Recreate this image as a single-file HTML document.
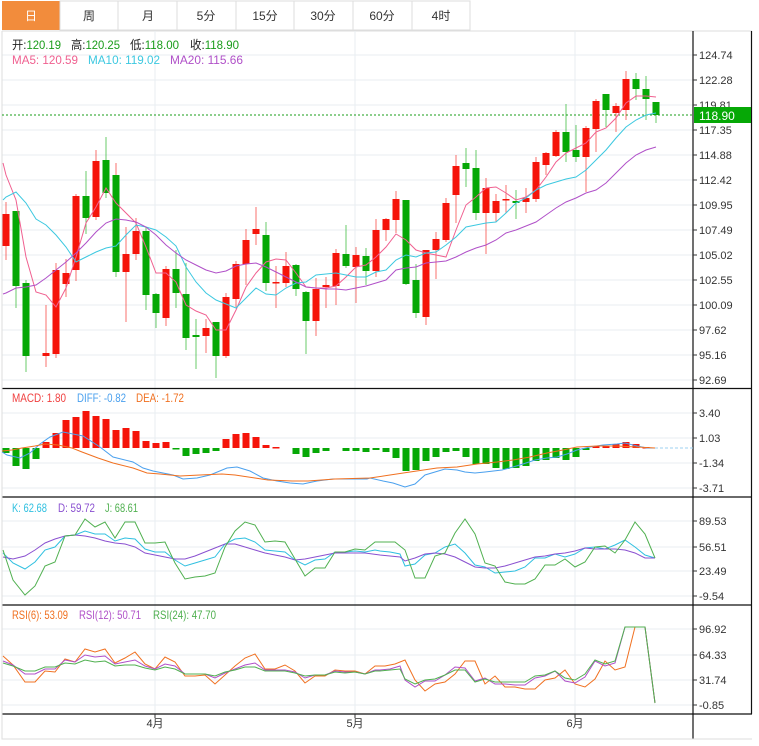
<!DOCTYPE html>
<html><head><meta charset="utf-8"><style>
html,body{margin:0;padding:0;background:#fff;width:759px;height:746px;overflow:hidden}
svg{display:block}
text{font-family:"Liberation Sans","Noto Sans CJK SC",sans-serif}
</style></head><body>
<svg width="759" height="746" viewBox="0 0 759 746" xmlns="http://www.w3.org/2000/svg">
<!-- tabs -->
<g font-size="12" fill="#333" text-anchor="middle">
<rect x="2" y="1" width="58" height="29" fill="#f28c3c"/>
<rect x="60" y="1" width="58" height="29" fill="#fff" stroke="#ddd"/>
<rect x="118" y="1" width="59" height="29" fill="#fff" stroke="#ddd"/>
<rect x="177" y="1" width="59" height="29" fill="#fff" stroke="#ddd"/>
<rect x="236" y="1" width="58" height="29" fill="#fff" stroke="#ddd"/>
<rect x="294" y="1" width="59" height="29" fill="#fff" stroke="#ddd"/>
<rect x="353" y="1" width="59" height="29" fill="#fff" stroke="#ddd"/>
<rect x="412" y="1" width="58" height="29" fill="#fff" stroke="#ddd"/>
<text x="31" y="20" fill="#fff">日</text><text x="89" y="20">周</text><text x="148" y="20">月</text><text x="206" y="20">5分</text><text x="265" y="20">15分</text><text x="323" y="20">30分</text><text x="382" y="20">60分</text><text x="441" y="20">4时</text>
</g>
<line x1="2" y1="31" x2="752" y2="31" stroke="#ddd"/>
<!-- grid -->
<g stroke="#e8eef2" stroke-width="1">
<path d="M2 55H693M2 80H693M2 105H693M2 130H693M2 155H693M2 180H693M2 205H693M2 230H693M2 255H693M2 280H693M2 305H693M2 330H693M2 355H693M2 380H693"/>
<path d="M2 413H693M2 438H693M2 463H693M2 488H693"/>
<path d="M2 521H693M2 547H693M2 571H693M2 596H693"/>
<path d="M2 629H693M2 655H693M2 680H693M2 705H693"/>
<path d="M155 31V714M355 31V714M575 31V714"/>
</g>
<!-- frame -->
<g stroke="#111" stroke-width="1.2" fill="none">
<path d="M2 388.5H752M2 497H752M2 605H752M2 714H752"/>
<path d="M693 31V739M751.5 31V714"/>
</g>
<path d="M2 31V739H752" stroke="#ddd" fill="none"/>
<!-- axis ticks and labels -->
<g stroke="#333"><path d="M693 55h4M693 80h4M693 105h4M693 130h4M693 155h4M693 180h4M693 205h4M693 230h4M693 255h4M693 280h4M693 305h4M693 330h4M693 355h4M693 380h4M693 413h4M693 438h4M693 463h4M693 488h4M693 521h4M693 547h4M693 571h4M693 596h4M693 629h4M693 655h4M693 680h4M693 705h4M155 714v4M355 714v4M575 714v4"/></g>
<g font-size="11" fill="#333">
<text x="699" y="59">124.74</text><text x="699" y="84">122.28</text><text x="699" y="109">119.81</text><text x="699" y="134">117.35</text><text x="699" y="159">114.88</text><text x="699" y="184">112.42</text><text x="699" y="209">109.95</text><text x="699" y="234">107.49</text><text x="699" y="259">105.02</text><text x="699" y="284">102.55</text><text x="699" y="309">100.09</text><text x="699" y="334">97.62</text><text x="699" y="359">95.16</text><text x="699" y="384">92.69</text>
<text x="699" y="417">3.40</text><text x="699" y="442">1.03</text><text x="699" y="467">-1.34</text><text x="699" y="492">-3.71</text>
<text x="699" y="525">89.53</text><text x="699" y="551">56.51</text><text x="699" y="575">23.49</text><text x="699" y="600">-9.54</text>
<text x="699" y="633">96.92</text><text x="699" y="659">64.33</text><text x="699" y="684">31.74</text><text x="699" y="709">-0.85</text>
<text x="155" y="727" text-anchor="middle">4月</text><text x="355" y="727" text-anchor="middle">5月</text><text x="575" y="727" text-anchor="middle">6月</text>
</g>
<!-- headers -->
<g font-size="12" lengthAdjust="spacingAndGlyphs">
<text x="12" y="49" fill="#222" textLength="49" lengthAdjust="spacingAndGlyphs">开:<tspan fill="#1a9c1a">120.19</tspan></text>
<text x="71" y="49" fill="#222" textLength="49" lengthAdjust="spacingAndGlyphs">高:<tspan fill="#1a9c1a">120.25</tspan></text>
<text x="130" y="49" fill="#222" textLength="49" lengthAdjust="spacingAndGlyphs">低:<tspan fill="#1a9c1a">118.00</tspan></text>
<text x="190" y="49" fill="#222" textLength="49" lengthAdjust="spacingAndGlyphs">收:<tspan fill="#1a9c1a">118.90</tspan></text>
<text x="12" y="64" fill="#f06090" textLength="66" lengthAdjust="spacingAndGlyphs">MA5: 120.59</text>
<text x="88" y="64" fill="#3cc8e0" textLength="72" lengthAdjust="spacingAndGlyphs">MA10: 119.02</text>
<text x="170" y="64" fill="#b050c8" textLength="73" lengthAdjust="spacingAndGlyphs">MA20: 115.66</text>
<text x="12" y="402" fill="#f04040" textLength="54" lengthAdjust="spacingAndGlyphs">MACD: 1.80</text>
<text x="77" y="402" fill="#4aa0ee" textLength="49" lengthAdjust="spacingAndGlyphs">DIFF: -0.82</text>
<text x="136" y="402" fill="#f07020" textLength="48" lengthAdjust="spacingAndGlyphs">DEA: -1.72</text>
<text x="12" y="512" fill="#30c0e0" textLength="35" lengthAdjust="spacingAndGlyphs">K: 62.68</text>
<text x="58" y="512" fill="#8a50d0" textLength="37" lengthAdjust="spacingAndGlyphs">D: 59.72</text>
<text x="105" y="512" fill="#50b050" textLength="33" lengthAdjust="spacingAndGlyphs">J: 68.61</text>
<text x="12" y="619" fill="#f07020" textLength="56" lengthAdjust="spacingAndGlyphs">RSI(6): 53.09</text>
<text x="79" y="619" fill="#b050c8" textLength="62" lengthAdjust="spacingAndGlyphs">RSI(12): 50.71</text>
<text x="153" y="619" fill="#50b050" textLength="63" lengthAdjust="spacingAndGlyphs">RSI(24): 47.70</text>
</g>
<!-- last price -->
<line x1="2" y1="115" x2="693" y2="115" stroke="#1a9c1a" stroke-dasharray="2,2"/>
<rect x="694" y="107" width="57" height="16" fill="#06a806"/>
<text x="699" y="120" font-size="12" fill="#fff">118.90</text>
<!-- candles -->
<g>
<g stroke="#f5140a" stroke-opacity="0.6"><path d="M6 202V260M46 305V367M56 263V358M66 259V297M76 194V281M96 150V220M116 163V218M126 227V322M136 218V260M166 266V326M206 319V353M226 293V358M236 261V307M246 229V285M256 207V245M276 266V308M286 252V287M316 278V336M326 277V308M336 249V305M356 247V303M376 219V277M386 218V241M396 191V233M426 250V325M436 232V279M446 198V242M456 155V223M486 178V254M496 194V222M506 185V213M526 188V213M536 157V202M546 152V175M556 130V157M586 126V192M596 99V152M616 103V132M626 71V120"/></g>
<g stroke="#06a806" stroke-opacity="0.6"><path d="M16 211V308M26 280V372M86 171V234M106 137V198M116 175V277M146 227V310M156 293V328M176 250V308M186 263V350M196 319V369M216 322V378M266 222V291M296 264V296M306 291V354M346 225V268M366 248V285M406 200V285M416 264V318M466 148V187M476 150V220M516 190V219M566 104V162M576 125V162M606 94V127M636 73V100M646 76V120M656 102V123"/></g>
<g fill="#f5140a">
<rect x="2.5" y="214" width="7" height="32"/><rect x="42.5" y="353" width="7" height="3"/><rect x="52.5" y="270" width="7" height="84"/><rect x="62.5" y="273" width="7" height="11"/><rect x="72.5" y="196" width="7" height="74"/><rect x="92.5" y="161" width="7" height="56"/><rect x="112.5" y="178" width="7" height="10"/><rect x="122.5" y="254" width="7" height="18"/><rect x="132.5" y="231" width="7" height="23"/><rect x="162.5" y="269" width="7" height="49"/><rect x="202.5" y="328" width="7" height="8"/><rect x="222.5" y="297" width="7" height="59"/><rect x="232.5" y="264" width="7" height="35"/><rect x="242.5" y="240" width="7" height="24"/><rect x="252.5" y="229" width="7" height="5"/><rect x="272.5" y="282" width="7" height="1.5"/><rect x="282.5" y="266" width="7" height="17"/><rect x="312.5" y="289" width="7" height="32"/><rect x="322.5" y="285" width="7" height="2"/><rect x="332.5" y="253" width="7" height="33"/><rect x="352.5" y="255" width="7" height="12"/><rect x="372.5" y="230" width="7" height="41"/><rect x="382.5" y="219" width="7" height="11"/><rect x="392.5" y="199" width="7" height="21"/><rect x="422.5" y="250" width="7" height="67"/><rect x="432.5" y="239" width="7" height="11"/><rect x="442.5" y="203" width="7" height="37"/><rect x="452.5" y="166" width="7" height="29"/><rect x="482.5" y="188" width="7" height="25"/><rect x="492.5" y="201" width="7" height="12"/><rect x="502.5" y="199" width="7" height="1.5"/><rect x="522.5" y="198" width="7" height="4"/><rect x="532.5" y="162" width="7" height="37"/><rect x="542.5" y="153" width="7" height="12"/><rect x="552.5" y="132" width="7" height="24"/><rect x="582.5" y="128" width="7" height="29"/><rect x="592.5" y="101" width="7" height="28"/><rect x="612.5" y="106" width="7" height="7"/><rect x="622.5" y="79" width="7" height="31"/>
</g>
<g fill="#06a806">
<rect x="12.5" y="211" width="7" height="75"/><rect x="22.5" y="283" width="7" height="73"/><rect x="82.5" y="196" width="7" height="22"/><rect x="102.5" y="160" width="7" height="33"/><rect x="112.5" y="175" width="7" height="97"/><rect x="142.5" y="231" width="7" height="64"/><rect x="152.5" y="294" width="7" height="19"/><rect x="172.5" y="269" width="7" height="24"/><rect x="182.5" y="294" width="7" height="44"/><rect x="192.5" y="335" width="7" height="2"/><rect x="212.5" y="322" width="7" height="34"/><rect x="262.5" y="235" width="7" height="48"/><rect x="292.5" y="265" width="7" height="24"/><rect x="302.5" y="292" width="7" height="29"/><rect x="342.5" y="254" width="7" height="12"/><rect x="362.5" y="256" width="7" height="15"/><rect x="402.5" y="200" width="7" height="84"/><rect x="412.5" y="280" width="7" height="33"/><rect x="462.5" y="163" width="7" height="6"/><rect x="472.5" y="168" width="7" height="45"/><rect x="512.5" y="201" width="7" height="2"/><rect x="562.5" y="132" width="7" height="20"/><rect x="572.5" y="150" width="7" height="7"/><rect x="602.5" y="94" width="7" height="16"/><rect x="632.5" y="79" width="7" height="10"/><rect x="642.5" y="89" width="7" height="10"/><rect x="652.5" y="102" width="7" height="13"/>
</g>
</g>
<!-- MAs -->
<g fill="none" stroke-width="1">
<polyline stroke="#f06090" points="3,163 6,175 16,200 26,257 36,292 46,295 56,307 66,288 76,257 86,223 96,207 106,188 116,203 126,213 136,223 146,247 156,273 166,273 176,282 186,305 196,311 206,315 216,330 226,330 236,310 246,287 256,273 266,262 276,259 286,260 296,273 306,287 316,288 326,288 336,286 346,277 356,267 366,265 376,257 386,247 396,234 406,240 416,250 426,253 436,255 446,257 456,230 466,205 476,197 486,188 496,187 506,193 516,200 526,197 536,190 546,177 556,162 566,153 576,148 586,143 596,132 606,128 616,118 626,103 636,96 646,96 656,97"/>
<polyline stroke="#3cc8e0" points="3,200 6,197 16,192 26,203 36,219 46,225 56,235 66,247 76,262 86,257 96,252 106,248 116,246 126,235 136,225 146,227 156,230 166,237 176,246 186,267 196,282 206,293 216,300 226,304 236,308 246,298 256,288 266,294 276,295 286,288 296,283 306,282 316,275 326,274 336,273 346,275 356,277 366,277 376,272 386,270 396,260 406,255 416,257 426,253 436,252 446,245 456,237 466,227 476,225 486,223 496,222 506,213 516,203 526,198 536,190 546,185 556,182 566,179 576,177 586,170 596,160 606,150 616,138 626,127 636,120 646,115 656,113"/>
<polyline stroke="#b050c8" points="3,294 6,293 16,288 26,287 36,285 46,278 56,270 66,262 76,253 86,243 96,232 106,223 116,219 126,220 136,222 146,227 156,235 166,245 176,253 186,260 196,265 206,270 216,273 226,271 236,266 246,264 256,263 266,267 276,272 286,277 296,282 306,287 316,288 326,289 336,289 346,290 356,288 366,286 376,283 386,280 396,270 406,268 416,267 426,263 436,262 446,261 456,257 466,252 476,248 486,245 496,240 506,233 516,230 526,226 536,222 546,215 556,208 566,202 576,198 586,193 596,190 606,183 616,173 626,163 636,155 646,150 656,147"/>
</g>
<!-- MACD bars -->
<g fill="#06a806"><rect x="2.5" y="448" width="7" height="5"/><rect x="12.5" y="448" width="7" height="18"/><rect x="22.5" y="448" width="7" height="21"/><rect x="32.5" y="448" width="7" height="11"/><rect x="172.5" y="448" width="7" height="1.5"/><rect x="182.5" y="448" width="7" height="8"/><rect x="192.5" y="448" width="7" height="6"/><rect x="202.5" y="448" width="7" height="5"/><rect x="212.5" y="448" width="7" height="3"/><rect x="292.5" y="448" width="7" height="6"/><rect x="302.5" y="448" width="7" height="9"/><rect x="312.5" y="448" width="7" height="5"/><rect x="322.5" y="448" width="7" height="3"/><rect x="342.5" y="448" width="7" height="3"/><rect x="352.5" y="448" width="7" height="3"/><rect x="362.5" y="448" width="7" height="4"/><rect x="372.5" y="448" width="7" height="2"/><rect x="382.5" y="448" width="7" height="4"/><rect x="392.5" y="448" width="7" height="10"/><rect x="402.5" y="448" width="7" height="23"/><rect x="412.5" y="448" width="7" height="22"/><rect x="422.5" y="448" width="7" height="13"/><rect x="432.5" y="448" width="7" height="9"/><rect x="442.5" y="448" width="7" height="4"/><rect x="452.5" y="448" width="7" height="3"/><rect x="462.5" y="448" width="7" height="9"/><rect x="472.5" y="448" width="7" height="16"/><rect x="482.5" y="448" width="7" height="16"/><rect x="492.5" y="448" width="7" height="20"/><rect x="502.5" y="448" width="7" height="21"/><rect x="512.5" y="448" width="7" height="20"/><rect x="522.5" y="448" width="7" height="18"/><rect x="532.5" y="448" width="7" height="13"/><rect x="542.5" y="448" width="7" height="12"/><rect x="552.5" y="448" width="7" height="10"/><rect x="562.5" y="448" width="7" height="12"/><rect x="572.5" y="448" width="7" height="9"/><rect x="582.5" y="448" width="7" height="2"/></g>
<g fill="#f5140a"><rect x="42.5" y="442" width="7" height="6"/><rect x="52.5" y="433" width="7" height="15"/><rect x="62.5" y="420" width="7" height="28"/><rect x="72.5" y="417" width="7" height="31"/><rect x="82.5" y="411" width="7" height="37"/><rect x="92.5" y="416" width="7" height="32"/><rect x="102.5" y="419" width="7" height="29"/><rect x="112.5" y="430" width="7" height="18"/><rect x="122.5" y="428" width="7" height="20"/><rect x="132.5" y="431" width="7" height="17"/><rect x="142.5" y="441" width="7" height="7"/><rect x="152.5" y="443" width="7" height="5"/><rect x="162.5" y="442" width="7" height="6"/><rect x="222.5" y="439" width="7" height="9"/><rect x="232.5" y="434" width="7" height="14"/><rect x="242.5" y="433" width="7" height="15"/><rect x="252.5" y="437" width="7" height="11"/><rect x="262.5" y="445" width="7" height="3"/><rect x="272.5" y="447" width="7" height="1.5"/><rect x="592.5" y="446" width="7" height="2"/><rect x="602.5" y="446" width="7" height="2"/><rect x="612.5" y="444" width="7" height="4"/><rect x="622.5" y="442" width="7" height="6"/><rect x="632.5" y="444" width="7" height="4"/><rect x="642.5" y="447" width="7" height="1.5"/></g>
<line x1="655" y1="448" x2="693" y2="448" stroke="#9cd0f0" stroke-dasharray="3,2"/>
<g fill="none">
<polyline stroke="#4aa0ee" points="2,452 7,455 20,458 30,453 40,444 50,437 63,432 83,436 100,447 113,457 133,462 143,468 153,471 173,475 183,479 197,478 210,475 227,468 237,467 250,471 263,478 277,481 290,483 303,484 317,481 333,479 367,479 370,478 383,481 393,483 405,487 415,484 425,475 445,469 457,470 465,472 475,473 485,472 502,470 513,467 523,464 535,460 547,458 557,457 567,454 577,450 590,447 603,445 617,444 625,443 637,446 647,448 655,448"/>
<polyline stroke="#f07020" points="2,451 12,450 22,448 35,446 45,444 58,445 72,448 82,452 98,458 113,463 133,468 147,473 160,474 180,476 200,475 222,474 235,475 255,478 268,480 292,481 308,481 335,479 370,478 390,475 410,472 437,468 457,467 477,464 497,462 513,460 530,457 547,453 563,450 577,447 597,446 617,446 637,447 655,448"/>
</g>
<!-- KDJ -->
<g fill="none">
<polyline stroke="#30c0e0" points="3,553 13,563 25,569 35,562 45,550 55,547 65,536 75,535 85,531 95,534 105,534 115,541 125,538 135,539 145,549 155,552 165,552 175,560 185,566 195,563 205,560 215,557 225,544 235,539 245,538 255,542 265,550 275,551 285,552 295,560 305,565 315,560 325,559 335,552 345,552 355,551 365,552 375,550 380,551 390,552 400,554 405,566 415,564 425,555 435,553 445,547 455,544 465,553 475,565 485,567 495,573 505,572 515,571 525,567 535,558 545,558 555,554 565,557 575,554 585,548 595,547 605,549 615,545 625,540 635,547 645,555 655,558"/>
<polyline stroke="#8a50d0" points="3,557 13,559 25,556 35,550 45,543 55,539 65,536 75,535 85,536 95,538 105,541 115,543 125,544 135,547 145,553 155,555 165,557 175,559 185,559 195,556 205,552 215,548 225,544 235,544 245,547 255,550 265,553 275,555 285,557 295,560 305,559 315,557 325,555 335,553 345,553 355,553 365,553 380,555 390,556 400,557 405,561 415,558 425,554 435,553 445,554 455,557 465,562 475,567 485,568 495,568 505,566 515,563 525,560 535,557 545,556 555,554 565,553 575,551 585,548 595,549 605,549 615,549 625,550 635,553 645,558 655,558"/>
<polyline stroke="#50b050" points="3,550 13,580 25,595 35,586 45,566 55,562 65,536 75,535 85,519 95,527 105,522 115,538 125,522 135,522 145,543 155,543 165,542 175,563 185,579 195,577 205,576 215,573 225,547 235,531 245,522 255,525 265,542 275,541 285,542 295,559 305,576 315,568 325,568 335,552 345,552 355,549 365,550 375,542 380,542 385,542 395,542 405,550 415,578 425,578 435,556 445,553 455,533 465,519 475,534 485,563 495,566 505,582 515,584 525,584 535,579 545,565 555,565 565,559 575,567 585,562 595,547 605,546 615,553 625,540 635,522 645,534 655,558"/>
</g>
<!-- RSI -->
<g fill="none">
<polyline stroke="#f07020" points="3,656 13,665 25,682 35,682 45,671 55,672 65,659 75,662 85,649 95,652 105,649 115,663 125,658 135,652 145,664 155,669 165,657 175,662 185,676 195,676 205,675 215,684 225,675 235,666 245,658 255,654 265,669 275,669 285,665 295,671 305,683 315,676 325,676 335,670 345,671 355,671 365,674 375,666 380,666 385,666 395,664 405,660 415,680 425,691 435,684 445,682 455,674 465,661 475,661 485,684 495,676 505,687 515,687 525,689 535,689 545,680 555,678 565,670 575,684 585,687 595,679 605,661 615,670 625,667 635,627 645,627 655,703"/>
<polyline stroke="#b050c8" points="3,661 13,665 25,674 35,674 45,669 55,669 65,660 75,662 85,655 95,657 105,656 115,664 125,662 135,660 145,666 155,669 165,664 175,666 185,674 195,674 205,674 215,678 225,673 235,669 245,665 255,663 265,670 275,670 285,670 295,672 305,678 315,675 325,675 335,671 345,672 355,672 365,674 375,670 380,670 390,669 400,666 405,680 415,687 425,681 435,681 445,675 455,667 465,668 475,681 485,678 495,684 505,684 515,685 525,685 535,678 545,676 555,671 565,681 575,683 585,677 595,661 605,666 615,663 625,627 645,627 655,703"/>
<polyline stroke="#50b050" points="3,663 13,666 25,671 35,671 45,667 55,667 65,663 75,664 85,660 95,662 105,661 115,666 125,665 135,665 145,668 155,670 165,667 175,669 185,674 195,674 205,674 215,676 225,672 235,670 245,667 255,667 265,671 275,671 285,671 295,673 305,676 315,675 325,675 335,672 345,673 355,672 365,674 375,671 380,671 390,670 400,669 405,679 415,684 425,680 435,679 445,675 455,670 465,670 475,682 485,679 495,682 505,682 515,682 525,682 535,676 545,675 555,671 565,678 575,680 585,674 595,660 605,664 615,661 625,627 645,627 655,703"/>
</g>
</svg>
</body></html>
